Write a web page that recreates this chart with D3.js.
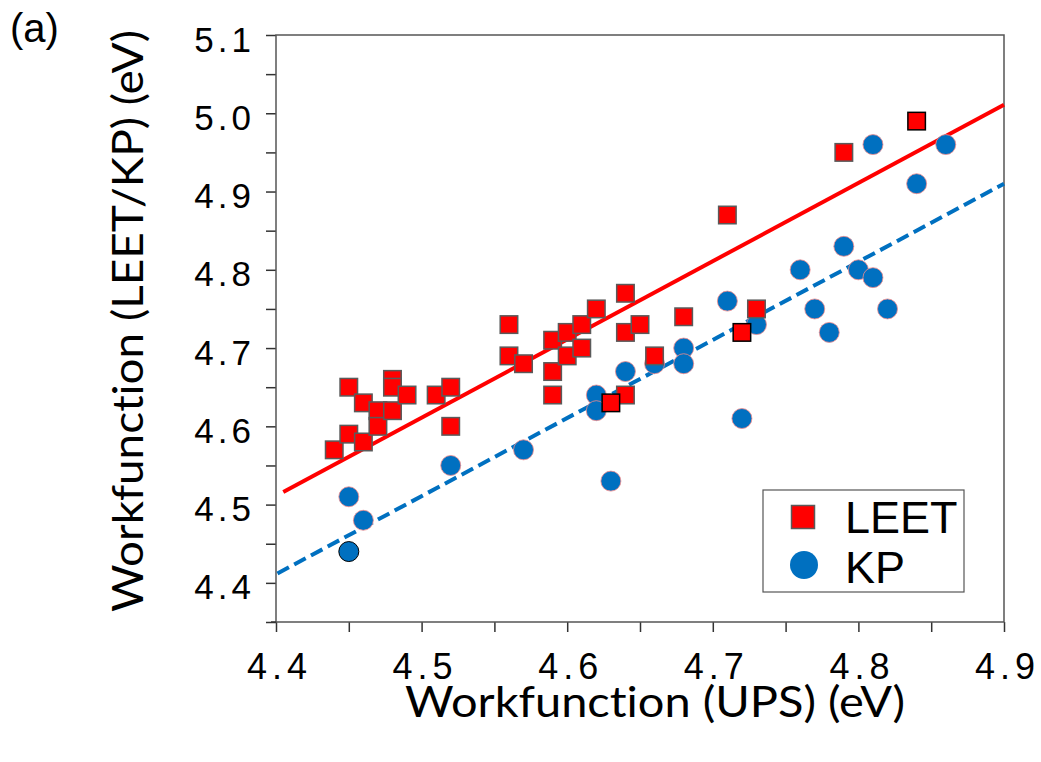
<!DOCTYPE html>
<html>
<head>
<meta charset="utf-8">
<script src="https://cdn.jsdelivr.net/npm/d3@7"></script>
<style>
    body { margin: 0; background: #fff; }
    svg { display: block; }
</style>
</head>
<body>
<svg id="chart" width="1041" height="762"></svg>
<script>
// LEET (squares)
var leetX = [4.44, 4.45, 4.45, 4.46, 4.46, 4.47, 4.47, 4.48, 4.48, 4.48, 4.49, 4.51, 4.52, 4.52,
    4.56, 4.56, 4.57, 4.59, 4.59, 4.59, 4.60, 4.60, 4.61, 4.61, 4.62, 4.64, 4.64, 4.64, 4.65,
    4.66, 4.68, 4.71, 4.73, 4.79, 4.63, 4.72, 4.84];
var leetY = [4.57, 4.65, 4.59, 4.63, 4.58, 4.62, 4.60, 4.66, 4.65, 4.62, 4.64, 4.64, 4.65, 4.60,
    4.73, 4.69, 4.68, 4.71, 4.67, 4.64, 4.72, 4.69, 4.73, 4.70, 4.75, 4.77, 4.72, 4.64, 4.73,
    4.69, 4.74, 4.87, 4.75, 4.95, 4.63, 4.72, 4.99];

// KP (circles)
var kpX = [4.45, 4.46, 4.45, 4.52, 4.57, 4.62, 4.62, 4.63, 4.64, 4.66, 4.68, 4.68, 4.71, 4.72,
    4.73, 4.76, 4.77, 4.78, 4.79, 4.80, 4.81, 4.81, 4.82, 4.84, 4.86];
var kpY = [4.51, 4.48, 4.44, 4.55, 4.57, 4.64, 4.62, 4.53, 4.67, 4.68, 4.70, 4.68, 4.76, 4.61,
    4.73, 4.80, 4.75, 4.72, 4.83, 4.80, 4.79, 4.96, 4.75, 4.91, 4.96];

// fitted lines (end points)
var leetFitX = [4.405, 4.9];
var leetFitY = [4.516, 5.011];
var kpFitX = [4.401, 4.9];
var kpFitY = [4.412, 4.910];

var xTicks = d3.range(4.4, 4.901, 0.05);
var yTicks = d3.range(4.35, 5.101, 0.05);
var xLabels = ["4.4", "4.5", "4.6", "4.7", "4.8", "4.9"];
var yLabels = ["4.4", "4.5", "4.6", "4.7", "4.8", "4.9", "5.0", "5.1"];
var legendNames = ["LEET", "KP"];

function draw() {
    var svg = d3.select("#chart");
    var pl = 276, pr = 1004, pt = 35, pb = 622;
    var x = d3.scaleLinear().domain([4.4, 4.9]).range([pl, pr]);
    var y = d3.scaleLinear().domain([4.35, 5.1]).range([pb, pt]);
    var red = "#ff0000", blue = "#0070c0";
    var tickFont = "'Liberation Sans', Arial, sans-serif";
    var titleFont = "Lato, 'Open Sans', sans-serif";

    function fmt(list) {
        return function (d) {
            var s = d.toFixed(1);
            return (Math.abs(d * 10 - Math.round(d * 10)) < 1e-6 && list.indexOf(s) >= 0) ? s : "";
        };
    }

    var xAxis = svg.append("g").attr("transform", "translate(0," + pb + ")")
        .call(d3.axisBottom(x).tickValues(xTicks).tickSize(10).tickFormat(fmt(xLabels)));
    xAxis.select(".domain").remove();
    xAxis.selectAll("line").attr("stroke", "#333").attr("stroke-width", 1.5);
    xAxis.selectAll("text").filter(function () { return this.textContent == ""; }).remove();
    xAxis.selectAll("text").attr("y", 57).attr("dy", 0).attr("dx", 3)
        .style("font-family", tickFont).style("font-size", "36px")
        .style("letter-spacing", "5px").attr("fill", "#000");

    var yAxis = svg.append("g").attr("transform", "translate(" + pl + ",0)")
        .call(d3.axisLeft(y).tickValues(yTicks).tickSize(10).tickFormat(fmt(yLabels)));
    yAxis.select(".domain").remove();
    yAxis.selectAll("line").attr("stroke", "#333").attr("stroke-width", 1.5);
    yAxis.selectAll("text").filter(function () { return this.textContent == ""; }).remove();
    yAxis.selectAll("text").attr("x", -21).attr("dy", "16px")
        .style("font-family", tickFont).style("font-size", "35px")
        .style("letter-spacing", "4px").attr("fill", "#000");

    // frame
    svg.append("rect").attr("x", pl).attr("y", pt)
        .attr("width", pr - pl).attr("height", pb - pt)
        .attr("fill", "none").attr("stroke", "#555").attr("stroke-width", 1.5);
    svg.append("line").attr("x1", pl - 5).attr("x2", pl).attr("y1", pb).attr("y2", pb)
        .attr("stroke", "#333").attr("stroke-width", 1.5);

    // fit lines
    var line = d3.line().x(function (d) { return x(d[0]); }).y(function (d) { return y(d[1]); });
    svg.append("path").datum(d3.zip(leetFitX, leetFitY)).attr("d", line)
        .attr("fill", "none").attr("stroke", red).attr("stroke-width", 4);
    svg.append("path").datum(d3.zip(kpFitX, kpFitY)).attr("d", line)
        .attr("fill", "none").attr("stroke", blue).attr("stroke-width", 4)
        .attr("stroke-dasharray", "13,6");

    // KP circles
    var kp = d3.zip(kpX, kpY);
    svg.append("g").selectAll("circle").data(kp).enter().append("circle")
        .attr("cx", function (d) { return x(d[0]); })
        .attr("cy", function (d) { return y(d[1]); })
        .attr("r", 10)
        .attr("fill", blue)
        .attr("stroke", function (d, i) { return i == 2 ? "#000" : "#f28a8a"; })
        .attr("stroke-width", function (d, i) { return i == 2 ? 1 : 0.8; });

    // LEET squares, last three outlined in black
    var leet = d3.zip(leetX, leetY);
    var s = 17.5;
    svg.append("g").selectAll("rect").data(leet).enter().append("rect")
        .attr("x", function (d) { return x(d[0]) - s / 2; })
        .attr("y", function (d) { return y(d[1]) - s / 2; })
        .attr("width", s).attr("height", s)
        .attr("fill", red)
        .attr("stroke", function (d, i) { return i >= leet.length - 3 ? "#000" : "#5a5a5a"; })
        .attr("stroke-width", 1.5);

    // legend
    var lg = svg.append("g");
    lg.append("rect").attr("x", 763).attr("y", 490).attr("width", 201).attr("height", 102)
        .attr("fill", "#fff").attr("stroke", "#555").attr("stroke-width", 1.2);
    lg.append("rect").attr("x", 803 - 11.5).attr("y", 517 - 11.5).attr("width", 23).attr("height", 23)
        .attr("fill", red).attr("stroke", "#5a5a5a").attr("stroke-width", 1.5);
    lg.append("circle").attr("cx", 804).attr("cy", 565).attr("r", 14).attr("fill", blue);
    lg.selectAll("text").data(legendNames).enter().append("text")
        .attr("x", 845).attr("y", function (d, i) { return 533 + i * 50; })
        .style("font-family", tickFont).style("font-size", "45px")
        .text(function (d) { return d; });

    // titles
    svg.append("text").attr("x", 655).attr("y", 717).attr("text-anchor", "middle")
        .attr("textLength", 500).attr("lengthAdjust", "spacingAndGlyphs")
        .style("font-family", titleFont).style("font-size", "42px")
        .style("font-variant-ligatures", "none")
        .text("Workfunction (UPS) (eV)");
    svg.append("text").attr("transform", "translate(143,321) rotate(-90)")
        .attr("text-anchor", "middle")
        .attr("textLength", 582).attr("lengthAdjust", "spacingAndGlyphs")
        .style("font-family", titleFont).style("font-size", "42px")
        .style("font-variant-ligatures", "none")
        .text("Workfunction (LEET/KP) (eV)");
    svg.append("text").attr("x", 10).attr("y", 42)
        .style("font-family", tickFont).style("font-size", "40px")
        .text("(a)");
}

draw();
</script>
</body>
</html>
